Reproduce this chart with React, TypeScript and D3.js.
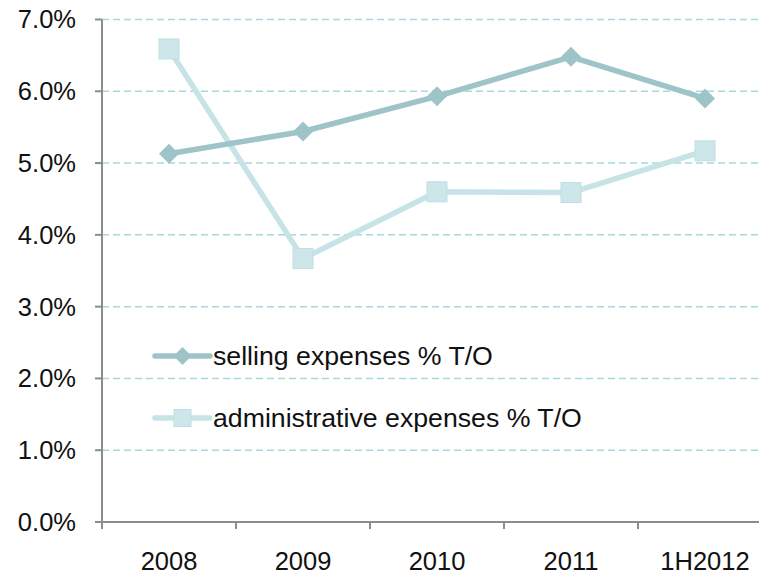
import React from 'react';
import * as d3 from 'd3';

const categories = ['2008', '2009', '2010', '2011', '1H2012'];
const sellingValues = [5.13, 5.44, 5.93, 6.48, 5.9];
const adminValues = [6.59, 3.67, 4.6, 4.59, 5.17];
const yTicks = [0, 1, 2, 3, 4, 5, 6, 7];
const seriesNames = ['selling expenses % T/O', 'administrative expenses % T/O'];

const width = 759;
const height = 575;
const margin = { left: 102, right: -13, top: 19.5, bottom: 53 };
const font = '"Liberation Sans", Arial, sans-serif';

const sellingColor = '#9fc4c7';
const adminColor = '#c6e3e6';
const gridColor = '#a9d8dc';
const axisColor = '#8c8c8c';

const App: React.FC = () => {
  const x = d3.scaleBand<string>().domain(categories).range([margin.left, width - margin.right]).padding(0);
  const y = d3.scaleLinear().domain([0, 7]).range([height - margin.bottom, margin.top]);
  const cx = (c: string) => (x(c) || 0) + x.bandwidth() / 2;

  const line = d3.line<number>()
    .x((_, i) => cx(categories[i]))
    .y(d => y(d));

  const diamond = (px: number, py: number, r: number) =>
    `M${px},${py - r}L${px + r},${py}L${px},${py + r}L${px - r},${py}Z`;

  const legendY = [356, 418];
  const legendX1 = 155;
  const legendX2 = 210;
  const legendMid = (legendX1 + legendX2) / 2;

  return (
    <svg width={width} height={height} style={{ position: 'absolute', left: 0, top: 0 }} fontFamily={font}>
      <rect width={width} height={height} fill="#ffffff" />
      {yTicks.filter(t => t > 0).map(t => (
        <line key={t} x1={margin.left} x2={width} y1={y(t)} y2={y(t)} stroke={gridColor} strokeWidth={1.5} strokeDasharray="7 4" />
      ))}
      <line x1={margin.left} x2={margin.left} y1={y(7)} y2={y(0)} stroke={axisColor} strokeWidth={2} />
      <line x1={margin.left - 7} x2={width} y1={y(0)} y2={y(0)} stroke={axisColor} strokeWidth={2} />
      {yTicks.map(t => (
        <g key={t}>
          <line x1={margin.left - 7} x2={margin.left} y1={y(t)} y2={y(t)} stroke={axisColor} strokeWidth={2} />
          <text x={margin.left - 26} y={y(t)} dy="0.35em" textAnchor="end" fontSize={25.5} fill="#111">{t.toFixed(1)}%</text>
        </g>
      ))}
      {categories.map(c => (
        <g key={c}>
          <line x1={(x(c) || 0) + x.bandwidth()} x2={(x(c) || 0) + x.bandwidth()} y1={y(0)} y2={y(0) + 7} stroke={axisColor} strokeWidth={2} />
          <text x={cx(c)} y={570} textAnchor="middle" fontSize={25.5} fill="#111">{c}</text>
        </g>
      ))}
      <line x1={margin.left} x2={margin.left} y1={y(0)} y2={y(0) + 7} stroke={axisColor} strokeWidth={2} />

      <path d={line(adminValues) || ''} fill="none" stroke={adminColor} strokeWidth={5.5} strokeLinejoin="round" />
      {adminValues.map((v, i) => (
        <rect key={i} x={cx(categories[i]) - 10} y={y(v) - 10} width={20} height={20} fill="#cde6e9" stroke="#c0dfe3" strokeWidth={1} />
      ))}
      <path d={line(sellingValues) || ''} fill="none" stroke={sellingColor} strokeWidth={5.5} strokeLinejoin="round" />
      {sellingValues.map((v, i) => (
        <path key={i} d={diamond(cx(categories[i]), y(v), 10)} fill={sellingColor} />
      ))}

      <line x1={legendX1} x2={legendX2} y1={legendY[0]} y2={legendY[0]} stroke={sellingColor} strokeWidth={5.5} strokeLinecap="round" />
      <path d={diamond(legendMid, legendY[0], 9)} fill={sellingColor} />
      <text x={213} y={legendY[0]} dy="0.35em" fontSize={26.7} fill="#111">{seriesNames[0]}</text>

      <line x1={legendX1} x2={legendX2} y1={legendY[1]} y2={legendY[1]} stroke={adminColor} strokeWidth={5.5} strokeLinecap="round" />
      <rect x={legendMid - 8.5} y={legendY[1] - 8.5} width={17} height={17} fill="#cde6e9" stroke="#c0dfe3" strokeWidth={1} />
      <text x={213} y={legendY[1]} dy="0.35em" fontSize={26.7} fill="#111">{seriesNames[1]}</text>
    </svg>
  );
};

export default App;
